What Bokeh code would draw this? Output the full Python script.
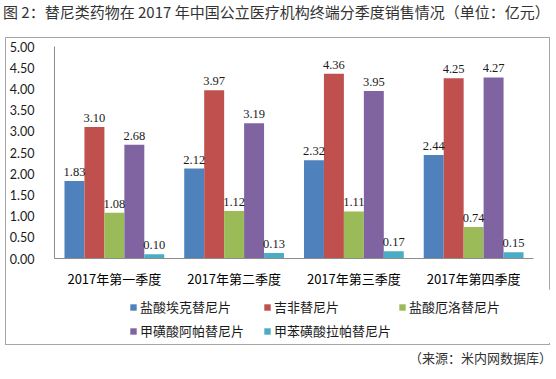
from bokeh.plotting import figure
from bokeh.models import (ColumnDataSource, FactorRange, Range1d, SingleIntervalTicker,
                          NumeralTickFormatter, LabelSet, Legend, LegendItem, Div)
from bokeh.transform import dodge
from bokeh.layouts import column
from bokeh.embed import file_html
from bokeh.resources import INLINE

title_text = "图 2：替尼类药物在 2017 年中国公立医疗机构终端分季度销售情况（单位：亿元）"
source_text = "（来源：米内网数据库）"
quarters = ["2017年第一季度", "2017年第二季度", "2017年第三季度", "2017年第四季度"]
series_names = ["盐酸埃克替尼片", "吉非替尼片", "盐酸厄洛替尼片", "甲磺酸阿帕替尼片", "甲苯磺酸拉帕替尼片"]
s1 = [1.83, 2.12, 2.32, 2.44]
s2 = [3.10, 3.97, 4.36, 4.25]
s3 = [1.08, 1.12, 1.11, 0.74]
s4 = [2.68, 3.19, 3.95, 4.27]
s5 = [0.10, 0.13, 0.17, 0.15]
colors = ["#4F81BD", "#C0504D", "#9BBB59", "#8064A2", "#4BACC6"]

series = [s1, s2, s3, s4, s5]
FONT = "Noto Sans CJK SC"
NUMFONT = "Lato"

p = figure(x_range=FactorRange(*quarters), y_range=Range1d(0, 5),
           width=545, height=308, output_backend="svg", toolbar_location=None,
           min_border_left=47, min_border_right=18, min_border_top=8, min_border_bottom=88,
           margin=(0, 0, 0, 5), styles={"border": "1px solid #a6a6a6"})
p.background_fill_color = "white"
p.border_fill_color = "white"
p.outline_line_color = None
p.xgrid.grid_line_color = None
p.ygrid.grid_line_color = None

data = {"q": quarters}
for i, s in enumerate(series):
    data["s%d" % i] = s
    data["t%d" % i] = ["%.2f" % v for v in s]
src = ColumnDataSource(data)

bw = 1.0 / 6
offsets = [-2 * bw, -bw, 0, bw, 2 * bw]
for i in range(5):
    p.vbar(x=dodge("q", offsets[i], range=p.x_range), top="s%d" % i, width=bw,
           source=src, fill_color=colors[i], line_color=None)
    lab = LabelSet(x=dodge("q", offsets[i], range=p.x_range), y="s%d" % i, text="t%d" % i,
                   source=src, text_align="center", text_baseline="bottom", y_offset=5,
                   text_font=NUMFONT, text_font_size="12.5px", text_color="#1a1a1a")
    p.add_layout(lab)

p.yaxis.ticker = SingleIntervalTicker(interval=0.5)
p.yaxis.formatter = NumeralTickFormatter(format="0.00")
p.yaxis.major_label_text_font = NUMFONT
p.yaxis.major_label_text_font_size = "12.5px"
p.yaxis.major_label_text_color = "#1a1a1a"
p.yaxis.major_tick_line_color = None
p.yaxis.minor_tick_line_color = None
p.yaxis.axis_line_color = "#8c8c8c"
p.yaxis.major_label_standoff = 14

p.xaxis.major_label_text_font = FONT
p.xaxis.major_label_text_font_size = "13px"
p.xaxis.major_label_text_color = "#000000"
p.xaxis.major_tick_line_color = None
p.xaxis.axis_line_color = "#8c8c8c"
p.xaxis.major_label_standoff = 4

# legend panel laid over the lower part of the chart box (bars out of its visible range)
p2 = figure(x_range=FactorRange(*quarters), y_range=Range1d(10, 11), width=544, height=54,
            output_backend="svg", toolbar_location=None,
            x_axis_type=None, y_axis_type=None, margin=(-56, 0, 0, 6),
            min_border_left=0, min_border_right=0, min_border_top=0, min_border_bottom=0)
p2.grid.visible = False
p2.outline_line_color = None
p2.background_fill_color = "white"
p2.border_fill_color = "white"

legend_pos = [(75, 27), (209, 27), (344, 27), (75, 3), (209, 3)]
for i in range(5):
    r = p2.vbar(x=dodge("q", offsets[i], range=p2.x_range), top="s%d" % i, width=bw,
                source=src, fill_color=colors[i], line_color=None)
    lg = Legend(items=[LegendItem(label=series_names[i], renderers=[r])],
                location=legend_pos[i], orientation="horizontal",
                padding=0, margin=0, spacing=0, border_line_color=None,
                background_fill_alpha=0, glyph_width=8, glyph_height=8,
                label_height=14, label_standoff=3,
                label_text_font=FONT, label_text_font_size="13px",
                label_text_color="#1a1a1a", label_text_baseline="middle")
    p2.add_layout(lg, "center")

title = Div(text=title_text, width=550, height=37, margin=(0, 0, 0, 3),
            styles={"font-family": FONT, "font-size": "15px", "color": "#333333",
                    "line-height": "24px", "white-space": "nowrap"})
src_div = Div(text=source_text, width=552, height=25, margin=(5, 0, 0, 0),
              styles={"font-family": FONT, "font-size": "13px", "color": "#333333",
                      "text-align": "right", "line-height": "20px", "white-space": "nowrap"})

layout = column(title, p, p2, src_div, spacing=0)
open("out.html", "w").write(file_html(layout, INLINE))
